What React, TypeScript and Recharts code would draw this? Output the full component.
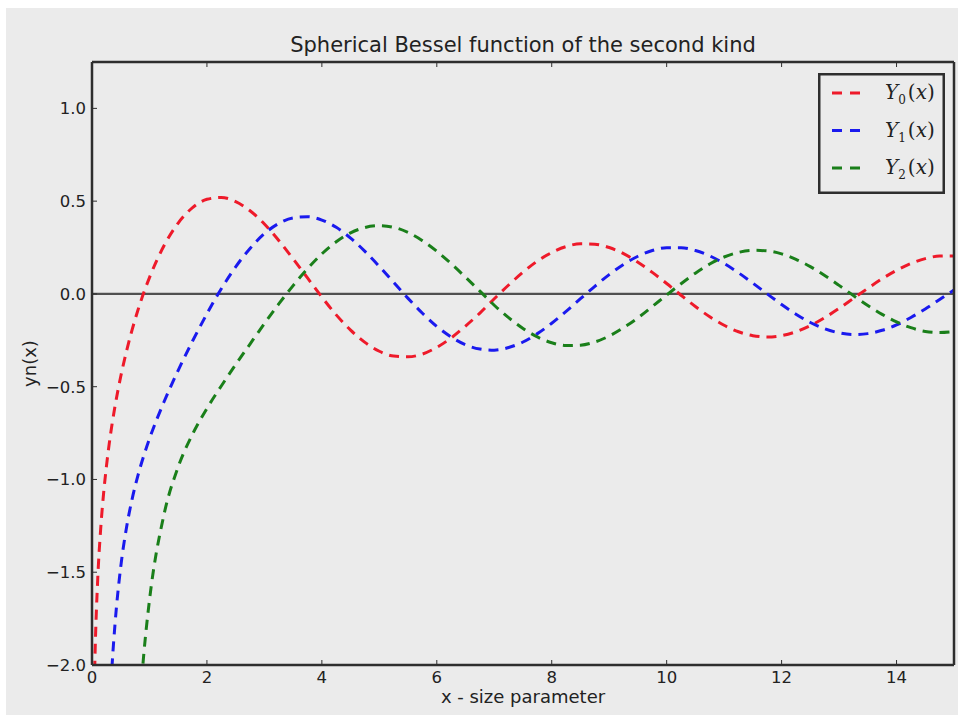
import React from "react"
import { Label, Legend, Line, LineChart, ReferenceLine, XAxis, YAxis } from "recharts"

// sample positions along x (size parameter)
const xValues = [
    0.04, 0.05, 0.1, 0.15, 0.2, 0.25, 0.3, 0.35, 0.4, 0.5, 0.6, 0.7, 0.8, 0.9,
    1.0, 1.25, 1.5, 1.75, 2.0, 2.25, 2.5, 2.75, 3.0, 3.25, 3.5, 3.75, 4.0, 4.25, 4.5, 4.75,
    5.0, 5.25, 5.5, 5.75, 6.0, 6.25, 6.5, 6.75, 7.0, 7.25, 7.5, 7.75, 8.0, 8.25, 8.5, 8.75,
    9.0, 9.25, 9.5, 9.75, 10.0, 10.25, 10.5, 10.75, 11.0, 11.25, 11.5, 11.75, 12.0, 12.25, 12.5, 12.75,
    13.0, 13.25, 13.5, 13.75, 14.0, 14.25, 14.5, 14.75, 15.0,
]

const y0Values = [
    -2.123, -1.981, -1.534, -1.271, -1.081, -0.932, -0.807, -0.700, -0.606, -0.445, -0.309, -0.191, -0.087, 0.006,
    0.088, 0.258, 0.382, 0.465, 0.510, 0.520, 0.498, 0.448, 0.377, 0.288, 0.189, 0.086, -0.017, -0.113, -0.195, -0.261,
    -0.309, -0.335, -0.339, -0.324, -0.288, -0.237, -0.173, -0.103, -0.026, 0.048, 0.117, 0.177, 0.223, 0.255, 0.270, 0.268,
    0.250, 0.217, 0.171, 0.116, 0.056, -0.007, -0.068, -0.123, -0.169, -0.204, -0.225, -0.232, -0.225, -0.204, -0.171, -0.128,
    -0.078, -0.024, 0.030, 0.082, 0.127, 0.164, 0.190, 0.204, 0.205,
]

const y1Values = [
    null, null, null, null, null, null, -2.293, -1.999, -1.781, -1.471, -1.260, -1.103, -0.978, -0.873,
    -0.781, -0.584, -0.412, -0.254, -0.107, 0.028, 0.146, 0.245, 0.325, 0.380, 0.410, 0.416, 0.398, 0.359, 0.301, 0.229,
    0.148, 0.062, -0.024, -0.104, -0.175, -0.232, -0.274, -0.297, -0.303, -0.289, -0.259, -0.214, -0.158, -0.094, -0.026, 0.041,
    0.104, 0.159, 0.203, 0.234, 0.249, 0.249, 0.234, 0.205, 0.164, 0.114, 0.058, 0.000, -0.057, -0.109, -0.154, -0.188,
    -0.210, -0.219, -0.214, -0.196, -0.167, -0.127, -0.081, -0.030, 0.021,
]

const y2Values = [
    null, null, null, null, null, null, null, null, null, null, null, null, -2.359, -1.946,
    -1.651, -1.193, -0.932, -0.756, -0.617, -0.496, -0.381, -0.270, -0.160, -0.054, 0.045, 0.136, 0.216, 0.281, 0.329, 0.358,
    0.368, 0.359, 0.331, 0.287, 0.230, 0.163, 0.090, 0.015, -0.061, -0.128, -0.186, -0.232, -0.263, -0.278, -0.276, -0.259,
    -0.227, -0.182, -0.129, -0.068, -0.006, 0.055, 0.112, 0.161, 0.199, 0.224, 0.235, 0.232, 0.216, 0.186, 0.147, 0.099,
    0.046, -0.009, -0.062, -0.110, -0.151, -0.182, -0.202, -0.208, -0.203,
]

const xTicks = [0, 2, 4, 6, 8, 10, 12, 14]
const yTicks = [-2, -1.5, -1, -0.5, 0, 0.5, 1]

const series = [
    { key: "y0", name: "Y0(x)", color: "#ee1a2a" },
    { key: "y1", name: "Y1(x)", color: "#1a1aee" },
    { key: "y2", name: "Y2(x)", color: "#1a7f1a" },
]

const data = xValues.map((x, i) => ({ x, y0: y0Values[i], y1: y1Values[i], y2: y2Values[i] }))

const frame = "#2e2e2e"
const sans = "'DejaVu Sans', sans-serif"
const tickStyle = { fill: "#222", fontSize: 16.5, fontFamily: sans }
const fmtY = (v: number) => v.toFixed(1).replace("-", "\u2212")
const blank = () => ""

const LegendBox = () => (
    <svg width={127} height={121}>
        <rect x={1.25} y={1.25} width={124.5} height={118.5} fill="#ebebeb" stroke={frame} strokeWidth={2.5} />
        {series.map((s, i) => {
            const y = 20 + i * 37.5
            return (
                <g key={s.key}>
                    <line x1={14} x2={44} y1={y} y2={y} stroke={s.color} strokeWidth={3} strokeDasharray="10 8" />
                    <text x={67} y={y + 6} fontFamily="'DejaVu Serif', serif" fontSize={20} fill="#222">
                        <tspan fontStyle="italic">Y</tspan>
                        <tspan fontSize={12} dy={5}>{s.name[1]}</tspan>
                        <tspan dy={-5} dx={2}>(</tspan>
                        <tspan fontStyle="italic">x</tspan>
                        <tspan>)</tspan>
                    </text>
                </g>
            )
        })}
    </svg>
)

export default function App() {
    return (
        <div style={{ position: "absolute", left: 0, top: 0, width: 963, height: 715, background: "#fff" }}>
            <div style={{ position: "absolute", left: 6, top: 8, width: 952, height: 707, background: "#ebebeb" }} />
            <div style={{
                position: "absolute", left: 92, top: 35, width: 862, textAlign: "center",
                fontFamily: sans, fontSize: 21, lineHeight: 1, color: "#222",
            }}>
                Spherical Bessel function of the second kind
            </div>
            <div style={{ position: "absolute", left: 0, top: 0 }}>
                <LineChart width={963} height={715} data={data} margin={{ top: 0, right: 0, bottom: 0, left: 0 }}>
                    <XAxis
                        dataKey="x" type="number" domain={[0, 15]} ticks={xTicks} allowDataOverflow
                        height={50} tickSize={-5} tickMargin={11} tick={tickStyle}
                        axisLine={{ stroke: frame, strokeWidth: 2.5 }} tickLine={{ stroke: frame }}
                    >
                        <Label value="x - size parameter" position="insideBottom" offset={12}
                            style={{ fill: "#222", fontSize: 18, fontFamily: sans }} />
                    </XAxis>
                    <XAxis
                        xAxisId="top" orientation="top" dataKey="x" type="number" domain={[0, 15]} ticks={xTicks}
                        height={62} tickSize={-5} tickFormatter={blank}
                        axisLine={{ stroke: frame, strokeWidth: 2.5 }} tickLine={{ stroke: frame }}
                    />
                    <YAxis
                        type="number" domain={[-2, 1.25]} ticks={yTicks} allowDataOverflow
                        width={92} tickSize={-5} tickMargin={11} tick={tickStyle} tickFormatter={fmtY}
                        axisLine={{ stroke: frame, strokeWidth: 2.5 }} tickLine={{ stroke: frame }}
                    >
                        <Label value="yn(x)" angle={-90} position="insideLeft" offset={30}
                            style={{ fill: "#222", fontSize: 18, fontFamily: sans, textAnchor: "middle" }} />
                    </YAxis>
                    <YAxis
                        yAxisId="right" orientation="right" type="number" domain={[-2, 1.25]} ticks={yTicks}
                        width={9} tickSize={-5} tickFormatter={blank}
                        axisLine={{ stroke: frame, strokeWidth: 2.5 }} tickLine={{ stroke: frame }}
                    />
                    <ReferenceLine y={0} stroke="#505050" strokeWidth={2.2} />
                    {series.map(s => (
                        <Line
                            key={s.key} dataKey={s.key} name={s.name} type="monotone" stroke={s.color}
                            strokeWidth={3} strokeDasharray="10 7" dot={false} isAnimationActive={false}
                        />
                    ))}
                    <Legend
                        layout="vertical" align="center" verticalAlign="middle"
                        wrapperStyle={{ left: 818, top: 73, width: 127, height: 121 }}
                        content={() => <LegendBox />}
                    />
                </LineChart>
            </div>
        </div>
    )
}
